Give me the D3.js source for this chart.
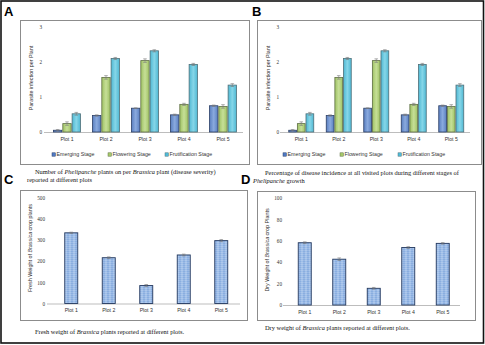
<!DOCTYPE html>
<html>
<head>
<meta charset="utf-8">
<script src="https://cdn.jsdelivr.net/npm/d3@7"></script>
<style>
  body { margin: 0; background: #fff; }
  svg { display: block; }
</style>
</head>
<body>
<script>
// data
var plots = ['Plot 1', 'Plot 2', 'Plot 3', 'Plot 4', 'Plot 5']
var stages = ['Emerging Stage', 'Flowering Stage', 'Frutification Stage']
var emerging = [0.05, 0.47, 0.68, 0.49, 0.75]
var flowering = [0.24, 1.56, 2.04, 0.79, 0.73]
var fruit = [0.52, 2.10, 2.32, 1.93, 1.34]
var emergingErr = [0.02, 0.02, 0.01, 0.02, 0.02]
var floweringErr = [0.05, 0.05, 0.05, 0.03, 0.05]
var fruitErr = [0.04, 0.03, 0.03, 0.03, 0.04]
var freshWeight = [335, 217, 85, 230, 298]
var freshErr = [3, 4, 5, 4, 5]
var dryWeight = [58.2, 42.8, 15.6, 53.7, 57.6]
var dryErr = [0.8, 1.2, 0.8, 0.8, 0.7]
var infTicks = [0, 1, 2, 3]
var freshTicks = [0, 100, 200, 300, 400, 500]
var dryTicks = [0, 20, 40, 60, 80, 100]

var W = 485, H = 345
var svg = d3.select('body').append('svg')
	.attr('width', W)
	.attr('height', H)

var defs = svg.append('defs')
function grad(id, c0, c1) {
	var g = defs.append('linearGradient').attr('id', id)
		.attr('x1', 0).attr('x2', 1).attr('y1', 0).attr('y2', 0)
	g.append('stop').attr('offset', '0%').attr('stop-color', c0)
	g.append('stop').attr('offset', '50%').attr('stop-color', c1)
	g.append('stop').attr('offset', '100%').attr('stop-color', c0)
}
grad('gEm', '#5a7fc0', '#8aaade')
grad('gFl', '#9fc264', '#c6df97')
grad('gFr', '#4fb8d3', '#86d6e8')
grad('gWt', '#7fa6dc', '#a9c6ec')
// faint horizontal striping on the weight bars
var pat = defs.append('pattern').attr('id', 'stripe')
	.attr('width', 4).attr('height', 2).attr('patternUnits', 'userSpaceOnUse')
pat.append('rect').attr('width', 4).attr('height', 2).attr('fill', 'url(#gWt)')
pat.append('rect').attr('width', 4).attr('height', 0.6).attr('fill', '#ffffff').attr('opacity', 0.25)

var stageFill = ['url(#gEm)', 'url(#gFl)', 'url(#gFr)']
var stageEdge = ['#2b3f66', '#5f6f45', '#4f6f78']
var legendSw = ['#4f7ac4', '#a6c96a', '#4fbcd8']

// outer frame
svg.append('rect')
	.attr('x', 1).attr('y', 1)
	.attr('width', W - 2.5).attr('height', H - 3)
	.attr('fill', 'none').attr('stroke', '#111').attr('stroke-width', 1.6)

function letter(t, x, y) {
	svg.append('text').attr('x', x).attr('y', y).text(t)
		.style('font-family', 'Liberation Sans, Arial, sans-serif')
		.style('font-weight', 'bold').style('font-size', '13px')
}
letter('A', 4, 16)
letter('B', 252, 16)
letter('C', 4, 184)
letter('D', 241, 184)

function caption(parts, x, y) {
	var t = svg.append('text').attr('x', x).attr('y', y)
		.style('font-family', 'Liberation Serif, Times New Roman, serif')
		.style('font-size', '6.4px').style('fill', '#111')
	parts.forEach(function (p) {
		t.append('tspan').text(p[0]).style('font-style', p[1] ? 'italic' : 'normal')
	})
}

// one chart panel; opts: box, xr, y domain & range, ticks, ylabel
function panel(o) {
	var g = svg.append('g')
	g.append('rect')
		.attr('x', o.box[0] + 0.5).attr('y', o.box[1] + 0.5)
		.attr('width', o.box[2] - o.box[0]).attr('height', o.box[3] - o.box[1])
		.attr('fill', '#fff').attr('stroke', '#8c8c8c').attr('stroke-width', 1)

	var x = d3.scaleBand().domain(plots).range(o.xr).padding(0)
	var y = d3.scaleLinear().domain(o.dom).range(o.yr)

	// y tick labels only, no axis line
	var ya = d3.axisLeft(y).tickValues(o.ticks).tickFormat(d3.format('d'))
		.tickSize(0).tickPadding(0)
	g.append('g')
		.attr('transform', 'translate(' + o.tickX + ',0)')
		.call(ya)
		.call(function (s) {
			s.select('.domain').remove()
			s.selectAll('text')
				.style('font-family', 'Liberation Serif, serif')
				.style('font-size', '5.2px').style('fill', '#333')
		})

	// baseline
	g.append('line')
		.attr('x1', o.base[0]).attr('x2', o.base[1])
		.attr('y1', y(0) + 0.5).attr('y2', y(0) + 0.5)
		.attr('stroke', '#bdbdbd').attr('stroke-width', 1)

	var xa = d3.axisBottom(x).tickSize(0).tickPadding(5)
	g.append('g')
		.attr('transform', 'translate(0,' + y(0) + ')')
		.call(xa)
		.call(function (s) {
			s.select('.domain').remove()
			s.selectAll('text')
				.style('font-family', 'Liberation Sans, sans-serif')
				.style('font-size', '5.2px').style('fill', '#333')
		})

	g.append('text')
		.attr('transform', 'translate(' + o.labX + ',' + o.labY + ') rotate(-90)')
		.attr('text-anchor', 'middle')
		.style('font-family', 'Liberation Sans, sans-serif')
		.style('font-size', '5.4px').style('fill', '#333')
		.selectAll('tspan').data(o.ylabel).enter().append('tspan')
		.text(function (d) { return d[0] })
		.style('font-style', function (d) { return d[1] ? 'italic' : 'normal' })

	return { g: g, x: x, y: y }
}

function errBar(g, cx, y0, y1) {
	g.append('line').attr('x1', cx).attr('x2', cx).attr('y1', y0).attr('y2', y1)
		.attr('stroke', '#777').attr('stroke-width', 0.6)
	;[y0, y1].forEach(function (yy) {
		g.append('line').attr('x1', cx - 1.8).attr('x2', cx + 1.8).attr('y1', yy).attr('y2', yy)
			.attr('stroke', '#777').attr('stroke-width', 0.6)
	})
}

function grouped(o) {
	var p = panel(o)
	var series = [emerging, flowering, fruit]
	var errs = [emergingErr, floweringErr, fruitErr]
	var sub = d3.scaleBand().domain([0, 1, 2])
		.range([0, o.groupW]).paddingInner(0.1)
	var off = (p.x.bandwidth() - o.groupW) / 2
	series.forEach(function (vals, si) {
		p.g.selectAll(null).data(vals).enter().append('rect')
			.attr('x', function (d, i) { return p.x(plots[i]) + off + sub(si) })
			.attr('y', function (d) { return p.y(d) })
			.attr('width', sub.bandwidth())
			.attr('height', function (d) { return p.y(0) - p.y(d) })
			.attr('fill', stageFill[si])
			.attr('stroke', stageEdge[si]).attr('stroke-width', 0.8)
		vals.forEach(function (d, i) {
			var cx = p.x(plots[i]) + off + sub(si) + sub.bandwidth() / 2
			errBar(p.g, cx, p.y(d - errs[si][i]), p.y(d + errs[si][i]))
		})
	})
	// legend
	var lg = p.g.append('g')
	stages.forEach(function (s, i) {
		lg.append('rect').attr('x', o.legX[i]).attr('y', o.legY - 3.2)
			.attr('width', 3.4).attr('height', 3.4)
			.attr('fill', legendSw[i]).attr('stroke', stageEdge[i]).attr('stroke-width', 0.5)
		lg.append('text').attr('x', o.legX[i] + 4.5).attr('y', o.legY)
			.text(s)
			.style('font-family', 'Liberation Sans, sans-serif')
			.style('font-size', '5.3px').style('fill', '#333')
	})
}

function simple(o, vals, errs) {
	var p = panel(o)
	var off = (p.x.bandwidth() - o.barW) / 2
	p.g.selectAll(null).data(vals).enter().append('rect')
		.attr('x', function (d, i) { return p.x(plots[i]) + off })
		.attr('y', function (d) { return p.y(d) })
		.attr('width', o.barW)
		.attr('height', function (d) { return p.y(0) - p.y(d) })
		.attr('fill', 'url(#stripe)')
		.attr('stroke', '#23385e').attr('stroke-width', 0.9)
	vals.forEach(function (d, i) {
		var cx = p.x(plots[i]) + p.x.bandwidth() / 2
		errBar(p.g, cx, p.y(d - errs[i]), p.y(d + errs[i]))
	})
}

var infLabel = [['Parasite infection per Plant', false]]

grouped({
	box: [20, 20, 249, 164], xr: [47.5, 242.5], dom: [0, 3], yr: [132, 27],
	ticks: infTicks, tickX: 42, base: [44, 243], labX: 33, labY: 78,
	ylabel: infLabel, groupW: 27, legX: [52, 108, 165], legY: 156
})
grouped({
	box: [257, 20, 481, 164], xr: [282.5, 470], dom: [0, 3], yr: [132, 27],
	ticks: infTicks, tickX: 279, base: [280, 470], labX: 270, labY: 78,
	ylabel: infLabel, groupW: 25, legX: [283, 340, 398], legY: 156
})
simple({
	box: [20, 190, 247, 320], xr: [52.5, 240], dom: [0, 500], yr: [303.5, 198],
	ticks: freshTicks, tickX: 45, base: [47, 240], labX: 32, labY: 248,
	ylabel: [['Fresh Weight of ', false], ['Brassica', true], [' crop plants', false]], barW: 13
}, freshWeight, freshErr)
simple({
	box: [257, 191, 475, 320], xr: [287.5, 460], dom: [0, 100], yr: [305, 198],
	ticks: dryTicks, tickX: 282, base: [283, 460], labX: 269, labY: 250,
	ylabel: [['Dry  Weight of ', false], ['Brassica', true], [' crop Plants', false]], barW: 13
}, dryWeight, dryErr)

caption([['Number  of ', false], ['Phelipanche', true], [' plants on per ', false], ['Brassica', true], [' plant (disease  severity)', false]], 35, 174)
caption([['reported at different plots', false]], 27, 182)
caption([['Percentage of disease incidence at all  visited plots during  different  stages of', false]], 265, 175)
caption([['Phelipanche', true], [' growth', false]], 253, 183)
caption([['Fresh weight of ', false], ['Brassica', true], [' plants reported at different  plots.', false]], 35, 334)
caption([['Dry weight of ', false], ['Brassica', true], [' plants reported at different plots.', false]], 265, 330)
</script>
</body>
</html>
